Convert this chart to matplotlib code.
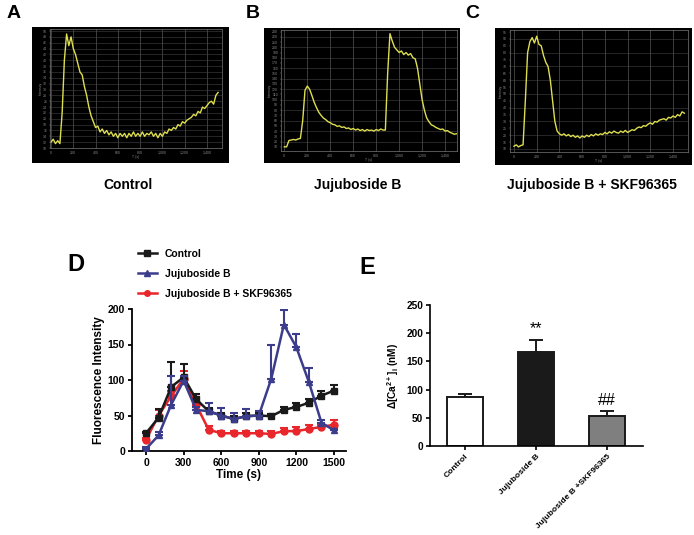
import numpy as np
import matplotlib
matplotlib.use("Agg")
import matplotlib.pyplot as plt
from matplotlib.lines import Line2D

plt.rcParams['font.family'] = ['Liberation Sans', 'DejaVu Sans']
plt.rcParams['mathtext.fontset'] = 'custom'
plt.rcParams['mathtext.rm'] = 'Liberation Sans:bold'
plt.rcParams['mathtext.it'] = 'Liberation Sans:italic:bold'
plt.rcParams['mathtext.default'] = 'rm'

# ---------------- data ----------------
# Top traces (time in s, every 20 s)
trace_t = list(range(0, 1501, 20))
trace_control = [12, 13, 11.5, 12.5, 11.5, 22, 40, 49, 45, 48, 44, 42, 39, 36, 35, 31, 28, 24, 21, 19,
                 17, 17.5, 15.5, 16.5, 15, 16, 14.5, 15.5, 14, 15, 13.5, 15, 14, 15, 13.5, 15, 14, 15.5, 14, 15,
                 14, 15.5, 14, 15, 14.5, 15.5, 14, 15, 13.5, 15, 14, 15.5, 15, 16.5, 16, 17, 16.5, 18, 17.5, 19,
                 18.5, 19.5, 20, 20.5, 21.5, 21, 22.5, 22, 24, 23.5, 24.5, 25.5, 26, 25, 28, 29]
trace_jujuB = [10, 10, 22, 23, 24, 23, 25, 26, 60, 118, 126, 120, 108, 95, 85, 76, 70, 65, 62, 58,
               56, 53, 52, 49, 50, 47, 48, 45, 46, 43, 45, 42, 44, 41, 43, 40, 43, 41, 42, 40,
               43, 41, 44, 42, 42, 150, 226, 212, 200, 195, 190, 193, 186, 190, 185, 188, 180, 178, 160, 130,
               100, 80, 65, 58, 52, 50, 47, 45, 43, 44, 40, 41, 38, 36, 34, 35]
trace_skf = [12, 13, 11.5, 12.5, 13, 45, 80, 88, 91, 87, 92, 86, 85, 78, 73, 70, 60, 45, 30, 23,
             21, 20, 21, 19.5, 20.5, 19, 20, 18.5, 19.5, 18, 19.5, 18.5, 20, 19, 20.5, 19.5, 21, 20, 21, 20.5,
             22, 21, 22.5, 21.5, 23, 22, 21.5, 23, 22, 23.5, 22, 23, 24, 23.5, 25, 26, 25.5, 27, 26.5, 28,
             29, 28, 30, 29.5, 31, 31.5, 32, 31, 33, 32.5, 34, 33, 35, 34, 37, 36]

# Panel D
time_s = [0, 100, 200, 300, 400, 500, 600, 700, 800, 900, 1000, 1100, 1200, 1300, 1400, 1500]
control_mean = [25, 47, 90, 104, 73, 56, 50, 45, 49, 50, 49, 58, 62, 68, 78, 85]
control_err = [2, 12, 35, 18, 7, 5, 4, 4, 4, 4, 3, 4, 5, 5, 7, 8]
jujuB_mean = [3, 22, 65, 99, 58, 56, 50, 45, 49, 50, 102, 178, 146, 97, 40, 29]
jujuB_err = [2, 5, 41, 6, 4, 12, 10, 9, 10, 6, 47, 21, 19, 20, 3, 2]
skf_mean = [16, 50, 77, 102, 65, 30, 25, 25, 25, 25, 24, 28, 28, 31, 34, 37]
skf_err = [2, 8, 8, 10, 5, 5, 3, 3, 3, 3, 4, 5, 6, 5, 3, 6]

# Panel E
groups = ['Control', 'Jujuboside B', 'Jujuboside B +SKF96365']
bar_mean = [87, 167, 53]
bar_err = [5, 21, 9]
bar_marks = ['', '**', '##']

# ---------------- figure ----------------
W, H = 694, 535
fig = plt.figure(figsize=(W / 100, H / 100), dpi=100)


def rect(x0, y0, x1, y1):
    return [x0 / W, 1 - y1 / H, (x1 - x0) / W, (y1 - y0) / H]


def trace_panel(img_box, plot_box, t, y, xlim, ylim, yticks, hgrid):
    bg = fig.add_axes(rect(*img_box))
    bg.set_facecolor('black')
    bg.set_xticks([]); bg.set_yticks([])
    for s in bg.spines.values():
        s.set_visible(False)
    ax = fig.add_axes(rect(*plot_box))
    ax.set_facecolor('none')
    ax.set_xlim(*xlim); ax.set_ylim(*ylim)
    for gx in range(0, 1401, 200):
        ax.axvline(gx, color='#555555', lw=0.5, zorder=0)
    for gy in hgrid:
        ax.axhline(gy, color='#444444', lw=0.4, zorder=0)
    ax.plot(t, y, color='#dede50', lw=1.0)
    ax.set_xticks(range(0, 1401, 200))
    ax.set_xticklabels(['0', '200', '400', '600', '800', '1,000', '1,200', '1,400'])
    ax.set_yticks(yticks)
    ax.tick_params(colors='#888888', labelsize=2.5, length=1, width=0.3, pad=1)
    for s in ax.spines.values():
        s.set_color('#777777'); s.set_linewidth(0.5)
    ax.set_xlabel('T (s)', fontsize=2.5, color='#888888', labelpad=0.5)
    ax.set_ylabel('Intensity', fontsize=2.5, color='#888888', labelpad=0.5)
    return ax


trace_panel((32, 27, 229, 163), (50, 29, 222, 148), trace_t, trace_control,
            (-9, 1535), (10, 50.7), list(range(10, 51, 2)), range(10, 51, 2))
trace_panel((264, 28, 460, 163), (281, 30, 457, 151), trace_t, trace_jujuB,
            (-29, 1504), (2, 233), list(range(10, 231, 10)), range(20, 231, 20))
trace_panel((495, 28, 692, 165), (510, 30, 688, 152), trace_t, trace_skf,
            (-35, 1532), (7.8, 96.5), list(range(10, 96, 5)), range(10, 96, 10))

fig.text(14 / W, 1 - 14 / H, 'A', fontsize=14, fontweight='bold', ha='center', va='center')
fig.text(253 / W, 1 - 14 / H, 'B', fontsize=14, fontweight='bold', ha='center', va='center')
fig.text(472 / W, 1 - 14 / H, 'C', fontsize=14, fontweight='bold', ha='center', va='center')
fig.text(128 / W, 1 - 185 / H, 'Control', fontsize=10, fontweight='bold', ha='center', va='center')
fig.text(358 / W, 1 - 185 / H, 'Jujuboside B', fontsize=10, fontweight='bold', ha='center', va='center')
fig.text(592 / W, 1 - 185 / H, 'Jujuboside B + SKF96365', fontsize=10, fontweight='bold', ha='center', va='center')

# ---------------- panel D ----------------
axd = fig.add_axes(rect(132, 309, 346, 451))
c_black, c_blue, c_red = '#1a1a1a', '#3c3c8c', '#e8262b'
zeros = [0] * len(time_s)
axd.errorbar(time_s, skf_mean, yerr=[zeros, skf_err], color=c_red, marker='o', ms=5,
             lw=1.8, capsize=3, capthick=1.5, elinewidth=1.5, zorder=3)
axd.errorbar(time_s, control_mean, yerr=[zeros, control_err], color=c_black, marker='s', ms=5,
             lw=1.8, capsize=3, capthick=1.5, elinewidth=1.5, zorder=4)
axd.errorbar(time_s, jujuB_mean, yerr=[zeros, jujuB_err], color=c_blue, marker='^', ms=5,
             lw=1.8, capsize=3, capthick=1.5, elinewidth=1.5, zorder=5)
axd.set_xlim(-112, 1596)
axd.set_ylim(0, 200)
axd.set_xticks([0, 300, 600, 900, 1200, 1500])
axd.set_yticks([0, 50, 100, 150, 200])
for s in ['top', 'right']:
    axd.spines[s].set_visible(False)
for s in ['left', 'bottom']:
    axd.spines[s].set_linewidth(1.3)
axd.tick_params(direction='out', length=3, width=1.3, labelsize=7.5, pad=2)
for lab in axd.get_xticklabels() + axd.get_yticklabels():
    lab.set_fontweight('bold')
axd.set_xlabel('Time (s)', fontsize=8.5, fontweight='bold', labelpad=1)
axd.set_ylabel('Fluorescence Intensity', fontsize=8.5, fontweight='bold', labelpad=2)

handles = [Line2D([], [], color=c_black, marker='s', ms=4, lw=1.8),
           Line2D([], [], color=c_blue, marker='^', ms=4, lw=1.8),
           Line2D([], [], color=c_red, marker='o', ms=4, lw=1.8)]
fig.legend(handles, ['Control', 'Jujuboside B', 'Jujuboside B + SKF96365'],
           loc='upper left', bbox_to_anchor=(138 / W, 1 - 249 / H), frameon=False,
           prop={'weight': 'bold', 'size': 7.5}, handlelength=1.8, labelspacing=0.95,
           handletextpad=0.8, borderaxespad=0, borderpad=0)
fig.text(76 / W, 1 - 265 / H, 'D', fontsize=17, fontweight='bold', ha='center', va='center')

# ---------------- panel E ----------------
axe = fig.add_axes(rect(430, 305, 643, 446))
pos = np.arange(len(groups))
axe.bar(pos, bar_mean, width=0.51, color=['white', '#1a1a1a', '#7f7f7f'],
        edgecolor='#1a1a1a', linewidth=1.4, zorder=2)
axe.errorbar(pos, bar_mean, yerr=[[0] * 3, bar_err], fmt='none', ecolor='#1a1a1a',
             elinewidth=1.4, capsize=5, capthick=1.4, zorder=1)
for p, m, e, mk in zip(pos, bar_mean, bar_err, bar_marks):
    if mk:
        axe.text(p, m + e + 6, mk, ha='center', va='bottom', fontsize=11.5, fontweight='normal')
axe.set_xlim(-0.49, 2.51)
axe.set_ylim(0, 250)
axe.set_yticks([0, 50, 100, 150, 200, 250])
axe.set_xticks(pos)
axe.set_xticklabels(groups, rotation=45, ha='right', rotation_mode='anchor')
for s in ['top', 'right']:
    axe.spines[s].set_visible(False)
for s in ['left', 'bottom']:
    axe.spines[s].set_linewidth(1.2)
axe.tick_params(direction='out', length=3, width=1.2, labelsize=7.3, pad=2)
for lab in axe.get_xticklabels():
    lab.set_fontsize(6.1)
for lab in axe.get_xticklabels() + axe.get_yticklabels():
    lab.set_fontweight('bold')
axe.set_ylabel(r'$\Delta$[Ca$^{2+}$]$_{i}$ (nM)', fontsize=7.3, fontweight='bold', labelpad=4)
fig.text(367 / W, 1 - 267 / H, 'E', fontsize=17, fontweight='bold', ha='center', va='center')

fig.savefig('out.png', dpi=100)
